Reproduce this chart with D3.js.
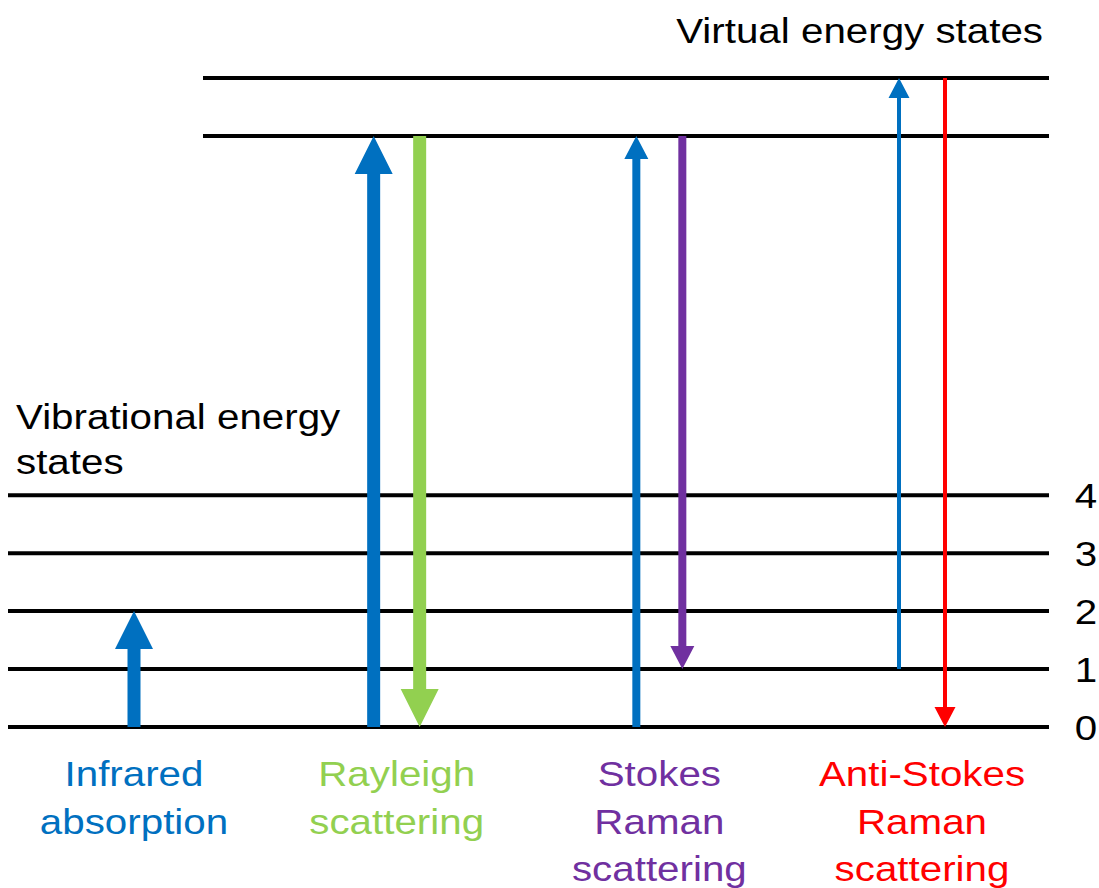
<!DOCTYPE html>
<html lang="en">
<head>
<meta charset="utf-8">
<title>Infrared, Rayleigh and Raman transitions</title>
<script src="https://d3js.org/d3.v7.min.js"></script>
<style>
  body { margin: 0; background: #fff; }
  svg text { font-family: "Liberation Sans", Arial, sans-serif; font-size: 36px; }
</style>
</head>
<body>
<div id="chart"></div>
<script>
// energy levels (in units of vibrational quanta)
var vibLevels = [0, 1, 2, 3, 4];
var virtualLevels = [10.2, 11.2];

// processes along the bottom
var processLabels = [
  ["Infrared", "absorption"],
  ["Rayleigh", "scattering"],
  ["Stokes", "Raman", "scattering"],
  ["Anti-Stokes", "Raman", "scattering"]
];

// transitions: which process, start level, end level
var transProcess = [0, 1, 1, 2, 2, 3, 3];
var transFrom    = [0, 0, 10.2, 0, 10.2, 1, 11.2];
var transTo      = [2, 10.2, 0, 10.2, 1, 11.2, 0];

var width = 1099, height = 888;

// colours and arrow sizes per process
var processColor = ["#0070C0", "#92D050", "#7030A0", "#FF0000"];
var upColor = "#0070C0";
var shaftW = [13, 13, 8, 4];
var headW  = [38, 38, 24, 21];
var headL  = [38, 38, 23, 20];

var svg = d3.select("#chart").append("svg")
    .attr("width", width)
    .attr("height", height);

var y = d3.scaleLinear().domain([0, 11.2]).range([727, 78]);
var x = d3.scaleLinear().domain([0, 3]).range([134, 922]);

// level lines
svg.selectAll(".vib")
  .data(vibLevels)
  .enter().append("line")
    .attr("x1", 8).attr("x2", 1049)
    .attr("y1", function(d) { return y(d); })
    .attr("y2", function(d) { return y(d); })
    .attr("stroke", "#000").attr("stroke-width", 4);

svg.selectAll(".virt")
  .data(virtualLevels)
  .enter().append("line")
    .attr("x1", 203).attr("x2", 1049)
    .attr("y1", function(d) { return y(d); })
    .attr("y2", function(d) { return y(d); })
    .attr("stroke", "#000").attr("stroke-width", 4);

// level numbers on the right
svg.selectAll(".lvl")
  .data(vibLevels)
  .enter().append("text")
    .attr("transform", function(d) { return "translate(1086," + (y(d) + 13) + ") scale(1.12,1)"; })
    .attr("text-anchor", "middle")
    .text(function(d) { return d; });

// arrows
var transitions = transProcess.map(function(p, i) {
  return { p: p, from: transFrom[i], to: transTo[i] };
});

function arrowPath(t) {
  var count = transProcess.filter(function(q) { return q == t.p; }).length;
  var up = t.to > t.from;
  var cx = x(t.p) + (count == 1 ? 0 : (up ? -23 : 23));
  var y0 = y(t.from), y1 = y(t.to);
  var dir = up ? 1 : -1;            // +1 -> head points to smaller y
  var base = y1 + dir * headL[t.p];
  var sw = shaftW[t.p] / 2, hw = headW[t.p] / 2;
  var path = d3.path();
  path.moveTo(cx - sw, y0);
  path.lineTo(cx - sw, base);
  path.lineTo(cx - hw, base);
  path.lineTo(cx, y1);
  path.lineTo(cx + hw, base);
  path.lineTo(cx + sw, base);
  path.lineTo(cx + sw, y0);
  path.closePath();
  return path.toString();
}

svg.selectAll(".arrow")
  .data(transitions)
  .enter().append("path")
    .attr("d", arrowPath)
    .attr("fill", function(t) { return t.to > t.from ? upColor : processColor[t.p]; });

// process labels
processLabels.forEach(function(lines, p) {
  lines.forEach(function(s, k) {
    svg.append("text")
      .attr("transform", "translate(" + x(p) + "," + (786 + k * 47.5) + ") scale(1.12,1)")
      .attr("text-anchor", "middle")
      .attr("fill", processColor[p])
      .text(s);
  });
});

// titles
svg.append("text")
  .attr("transform", "translate(1043,43) scale(1.12,1)")
  .attr("text-anchor", "end")
  .text("Virtual energy states");

svg.append("text")
  .attr("transform", "translate(16,429) scale(1.12,1)")
  .text("Vibrational energy");
svg.append("text")
  .attr("transform", "translate(16,474) scale(1.12,1)")
  .text("states");
</script>
</body>
</html>
